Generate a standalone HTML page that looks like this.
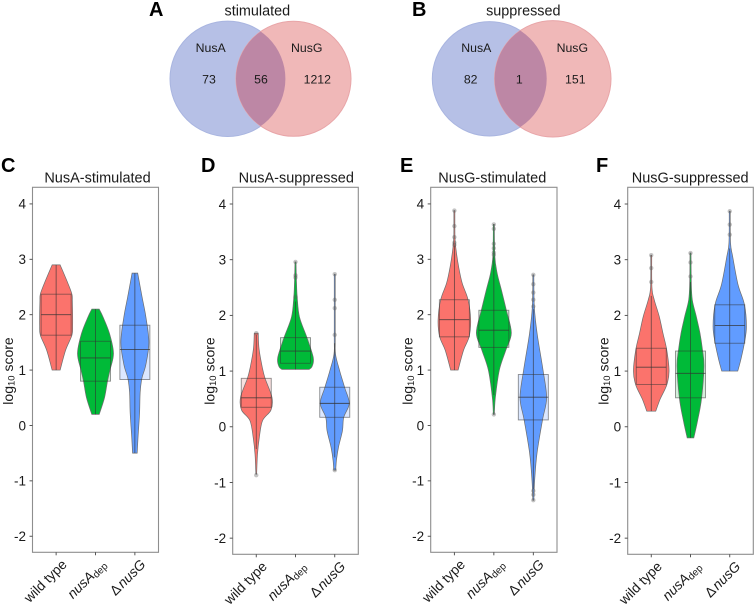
<!DOCTYPE html>
<html lang="en">
<head>
<meta charset="utf-8">
<title>NusA and NusG Venn diagrams and violin plots</title>
<style>
html,body{margin:0;padding:0;background:#fff;}
svg{display:block;font-family:"Liberation Sans",Arial,sans-serif;}
text{fill:#1a1a1a;}
.letter{font-weight:bold;font-size:20px;fill:#000;}
.vt{font-size:14.4px;text-anchor:middle;}
.vl{font-size:12.3px;text-anchor:middle;}
</style>
</head>
<body>
<svg id="figure" xmlns="http://www.w3.org/2000/svg" width="755" height="605" viewBox="0 0 755 605">
  <defs>
    <clipPath id="clipA"><circle cx="227.7" cy="78.8" r="57.7"/></clipPath>
    <clipPath id="clipB"><circle cx="489.5" cy="78.8" r="57.2"/></clipPath>
  </defs>
  <g>
    <text class="letter" x="149" y="16">A</text>
    <text class="vt" x="257.3" y="15.5">stimulated</text>
    <circle cx="227.7" cy="78.8" r="57.7" fill="#b6c0e6" stroke="#a9b5e0"/>
    <circle cx="293.5" cy="78.8" r="57.5" fill="#f0b8b8" stroke="#e8a5a8"/>
    <circle cx="293.5" cy="78.8" r="57.5" fill="#bd87a5" clip-path="url(#clipA)"/>
    <text class="vl" x="210.7" y="52">NusA</text>
    <text class="vl" x="306.7" y="52">NusG</text>
    <text class="vl" x="209" y="83.7">73</text>
    <text class="vl" x="261" y="83.7">56</text>
    <text class="vl" x="317.3" y="83.7">1212</text>
  </g>
  <g>
    <text class="letter" x="412" y="16">B</text>
    <text class="vt" x="523.3" y="15.5">suppressed</text>
    <circle cx="489.5" cy="78.8" r="57.2" fill="#b6c0e6" stroke="#a9b5e0"/>
    <circle cx="552.8" cy="78.8" r="58.2" fill="#f0b8b8" stroke="#e8a5a8"/>
    <circle cx="552.8" cy="78.8" r="58.2" fill="#bd87a5" clip-path="url(#clipB)"/>
    <text class="vl" x="476.3" y="52">NusA</text>
    <text class="vl" x="572.3" y="52">NusG</text>
    <text class="vl" x="470.7" y="83.7">82</text>
    <text class="vl" x="519.3" y="83.7">1</text>
    <text class="vl" x="575.3" y="83.7">151</text>
  </g>
  <text class="letter" x="1" y="172">C</text>
  <text class="letter" x="201" y="172">D</text>
  <text class="letter" x="400" y="172">E</text>
  <text class="letter" x="596" y="172">F</text>
</svg>
<script>
// ---- shared axis data ----
const categories = ['wild type', 'nusAdep', 'ΔnusG'];
const yTicks = [4, 3, 2, 1, 0, -1, -2];
const yDomain = [-2.29, 4.3];

// ---- Each violin: score levels, density at each level, box stats [low, q1, median, q3, high], outliers ----
const cWtLevels = [1.0, 1.36, 1.63, 1.8, 2.0, 2.25, 2.37, 2.57, 2.9];
const cWtDensity = [0.4, 0.95, 1.58, 1.65, 1.65, 1.62, 1.58, 1.17, 0.4];
const cWtBox = [1.0, 1.63, 2.0, 2.37, 2.9];
const cWtOutliers = [];
const cDepLevels = [0.2, 0.5, 0.8, 1.0, 1.3, 1.66, 1.96, 2.1];
const cDepDensity = [0.37, 0.9, 1.2, 1.45, 1.8, 1.4, 0.75, 0.37];
const cDepBox = [0.2, 0.8, 1.22, 1.52, 2.1];
const cDepOutliers = [];
const cDelLevels = [-0.5, -0.2, 0.22, 0.6, 0.85, 1.1, 1.5, 1.96, 2.32, 2.75];
const cDelDensity = [0.23, 0.32, 0.47, 0.53, 0.7, 1.1, 1.4, 1.1, 0.72, 0.28];
const cDelBox = [-0.5, 0.83, 1.37, 1.81, 2.75];
const cDelOutliers = [];

const dWtLevels = [-0.85, -0.5, -0.2, 0.11, 0.3, 0.53, 0.87, 1.07, 1.4, 1.68];
const dWtDensity = [0.04, 0.12, 0.3, 0.63, 1.47, 1.57, 0.88, 0.6, 0.28, 0.2];
const dWtBox = [-0.4, 0.35, 0.52, 0.87, 1.65];
const dWtOutliers = [-0.87, 1.68];
const dDepLevels = [1.03, 1.08, 1.24, 1.6, 1.97, 2.33, 2.6, 2.96];
const dDepDensity = [1.35, 1.65, 1.78, 1.15, 0.4, 0.17, 0.1, 0.05];
const dDepBox = [1.03, 1.14, 1.36, 1.6, 2.25];
const dDepOutliers = [2.96, 2.72, 2.68, 2.33];
const dDelLevels = [-0.78, -0.6, -0.37, -0.07, 0.17, 0.42, 0.7, 1.0, 1.3, 1.6, 2.74];
const dDelDensity = [0.1, 0.17, 0.37, 0.77, 0.9, 1.45, 1.0, 0.5, 0.08, 0.05, 0.05];
const dDelBox = [-0.55, 0.17, 0.42, 0.71, 1.5];
const dDelOutliers = [2.74, 2.28, 2.13, 1.65, -0.78];

const eWtLevels = [1.0, 1.36, 1.6, 1.9, 2.27, 2.57, 2.87, 3.17, 3.4, 3.88];
const eWtDensity = [0.37, 0.92, 1.47, 1.63, 1.37, 0.78, 0.42, 0.17, 0.06, 0.05];
const eWtBox = [1.0, 1.6, 1.91, 2.27, 3.25];
const eWtOutliers = [3.88, 3.6, 3.4, 3.3, 3.26];
const eDepLevels = [0.2, 0.5, 1.0, 1.36, 1.67, 2.08, 2.45, 2.75, 3.05, 3.63];
const eDepDensity = [0.05, 0.15, 0.55, 1.2, 1.75, 1.25, 0.75, 0.33, 0.1, 0.05];
const eDepBox = [0.55, 1.41, 1.72, 2.08, 3.05];
const eDepOutliers = [3.63, 3.55, 3.28, 3.2, 3.12, 3.08, 0.2];
const eDelLevels = [-1.35, -1.0, -0.5, 0.1, 0.5, 1.0, 1.66, 2.14, 2.72];
const eDelDensity = [0.05, 0.13, 0.37, 0.92, 1.33, 0.97, 0.38, 0.1, 0.05];
const eDelBox = [-1.15, 0.1, 0.51, 0.92, 2.1];
const eDelOutliers = [2.72, 2.55, 2.4, 2.27, 2.15, -1.18, -1.25, -1.35];

const fWtLevels = [0.28, 0.5, 0.75, 1.0, 1.38, 1.68, 1.98, 2.28, 2.5, 3.08];
const fWtDensity = [0.45, 0.9, 1.55, 1.78, 1.55, 1.17, 0.8, 0.3, 0.07, 0.05];
const fWtBox = [0.28, 0.76, 1.07, 1.41, 2.35];
const fWtOutliers = [3.08, 2.85, 2.6];
const fDepLevels = [-0.2, 0.1, 0.5, 1.08, 1.38, 1.68, 1.98, 2.28, 2.6, 3.12];
const fDepDensity = [0.33, 0.7, 1.1, 1.35, 1.2, 0.95, 0.58, 0.18, 0.08, 0.05];
const fDepBox = [-0.2, 0.52, 0.96, 1.36, 2.6];
const fDepOutliers = [3.12, 2.95, 2.7];
const fDelLevels = [1.0, 1.2, 1.5, 1.8, 2.2, 2.55, 3.05, 3.3, 3.87];
const fDelDensity = [0.8, 1.1, 1.46, 1.67, 1.46, 0.83, 0.3, 0.08, 0.05];
const fDelBox = [1.0, 1.5, 1.82, 2.19, 3.2];
const fDelOutliers = [3.87, 3.63, 3.45];

const panelTitles = ['NusA-stimulated', 'NusA-suppressed', 'NusG-stimulated', 'NusG-suppressed'];
const panelSeries = [
  [[cWtLevels, cWtDensity, cWtBox, cWtOutliers], [cDepLevels, cDepDensity, cDepBox, cDepOutliers], [cDelLevels, cDelDensity, cDelBox, cDelOutliers]],
  [[dWtLevels, dWtDensity, dWtBox, dWtOutliers], [dDepLevels, dDepDensity, dDepBox, dDepOutliers], [dDelLevels, dDelDensity, dDelBox, dDelOutliers]],
  [[eWtLevels, eWtDensity, eWtBox, eWtOutliers], [eDepLevels, eDepDensity, eDepBox, eDepOutliers], [eDelLevels, eDelDensity, eDelBox, eDelOutliers]],
  [[fWtLevels, fWtDensity, fWtBox, fWtOutliers], [fDepLevels, fDepDensity, fDepBox, fDepOutliers], [fDelLevels, fDelDensity, fDelBox, fDelOutliers]]
];

// ---- layout (not data) ----
const frames = [
  {left: 32.5, right: 158.5, top: 187.3, bottom: 552.3, titleX: 97.5, axisTitleX: 13},
  {left: 232.7, right: 358.3, top: 187.3, bottom: 554.3, titleX: 296.3, axisTitleX: 214.3},
  {left: 430.7, right: 557, top: 187.3, bottom: 552.3, titleX: 492.3, axisTitleX: 412.3},
  {left: 627.7, right: 753.3, top: 187.3, bottom: 554.3, titleX: 690.2, axisTitleX: 608.7}
];
const fills = ['#fb736c', '#00ba38', '#619cff'];
const tints = ['#f8e0df', '#d5efdc', '#dce8ff'];
const densityPx = 10;
const boxHalf = 15;
const NS = 'http://www.w3.org/2000/svg';
const root = document.getElementById('figure');

function mk(tag, parent, attrs) {
  const el = document.createElementNS(NS, tag);
  for (const k in attrs) el.setAttribute(k, attrs[k]);
  parent.appendChild(el);
  return el;
}
function xScale(f, i) {
  const step = (f.right - f.left) / 3.2;
  return f.left + (0.6 + i) * step;
}
function yScale(f, v) {
  return f.bottom - (v - yDomain[0]) / (yDomain[1] - yDomain[0]) * (f.bottom - f.top);
}
function smooth(pts) {
  let d = '';
  for (let i = 0; i < pts.length - 1; i++) {
    const p0 = pts[Math.max(i - 1, 0)], p1 = pts[i], p2 = pts[i + 1], p3 = pts[Math.min(i + 2, pts.length - 1)];
    const c1 = [p1[0] + (p2[0] - p0[0]) / 6, p1[1] + (p2[1] - p0[1]) / 6];
    const c2 = [p2[0] - (p3[0] - p1[0]) / 6, p2[1] - (p3[1] - p1[1]) / 6];
    d += 'C' + c1[0].toFixed(2) + ' ' + c1[1].toFixed(2) + ' ' + c2[0].toFixed(2) + ' ' + c2[1].toFixed(2) + ' ' + p2[0].toFixed(2) + ' ' + p2[1].toFixed(2);
  }
  return d;
}
function violinPath(f, cx, levels, density) {
  const left = levels.map((v, i) => [cx - density[i] * densityPx, yScale(f, v)]);
  const right = levels.map((v, i) => [cx + density[i] * densityPx, yScale(f, v)]).reverse();
  return 'M' + left[0][0].toFixed(2) + ' ' + left[0][1].toFixed(2) + smooth(left) +
         'L' + right[0][0].toFixed(2) + ' ' + right[0][1].toFixed(2) + smooth(right) + 'Z';
}
function categoryLabel(parent, text) {
  text.split(/(nusA|nusG|dep)/).filter(Boolean).forEach(tok => {
    const ts = mk('tspan', parent, {});
    ts.textContent = tok;
    if (tok === 'nusA') ts.setAttribute('font-style', 'italic');
    if (tok === 'nusG') {
      ts.setAttribute('font-style', 'italic');
      ts.setAttribute('dx', '1.5');
    }
    if (tok === 'dep') {
      ts.setAttribute('font-size', '10');
      ts.setAttribute('dy', '2');
    }
  });
}

frames.forEach((f, p) => {
  const letter = 'cdef'[p];
  const g = mk('g', root, {});
  
  

  const title = mk('text', g, {x: f.titleX, y: 182.7, 'text-anchor': 'middle', 'font-size': '14.5'});
  title.textContent = panelTitles[p];
  
  

  const frame = mk('rect', g, {x: f.left, y: f.top, width: f.right - f.left, height: f.bottom - f.top, fill: '#fff', stroke: '#8e8e8e', 'stroke-width': '1.1'});
  
  

  const axisTitle = mk('text', g, {transform: 'translate(' + f.axisTitleX + ' 371) rotate(-90)', 'text-anchor': 'middle', 'font-size': '14'});
  
  
  const t1 = mk('tspan', axisTitle, {});
  t1.textContent = 'log';
  const t2 = mk('tspan', axisTitle, {'font-size': '9.5', dy: '1.5'});
  t2.textContent = '10';
  const t3 = mk('tspan', axisTitle, {dy: '-1.5'});
  t3.textContent = ' score';

  yTicks.forEach(t => {
    const y = yScale(f, t);
    const tick = mk('line', g, {x1: f.left - 3, x2: f.left, y1: y, y2: y, stroke: '#444', 'stroke-width': '0.9'});
    
    
    const label = mk('text', g, {x: f.left - 6.5, y: y + 4.8, 'text-anchor': 'end', 'font-size': '13.5'});
    label.textContent = t;
    
    
  });

  categories.forEach((c, i) => {
    const cx = xScale(f, i);
    const [levels, density, box, outliers] = panelSeries[p][i];

    const tick = mk('line', g, {x1: cx, x2: cx, y1: f.bottom, y2: f.bottom + 3, stroke: '#444', 'stroke-width': '0.9'});
    
    
    const label = mk('text', g, {transform: 'translate(' + (cx + 11.5) + ' ' + (f.bottom + 13) + ') rotate(-45)', 'text-anchor': 'end', 'font-size': '13.8'});
    categoryLabel(label, c);
    
    

    const boxFill = mk('rect', g, {x: cx - boxHalf, y: yScale(f, box[3]), width: boxHalf * 2, height: yScale(f, box[1]) - yScale(f, box[3]), fill: tints[i]});
    
    

    const violin = mk('path', g, {d: violinPath(f, cx, levels, density), fill: fills[i], stroke: '#6e6e6e', 'stroke-width': '0.7'});
    
    

    const whisker = mk('line', g, {x1: cx, x2: cx, y1: yScale(f, box[0]), y2: yScale(f, box[4]), stroke: '#333', 'stroke-opacity': '0.75', 'stroke-width': '0.8'});
    
    

    const boxOutline = mk('rect', g, {x: cx - boxHalf, y: yScale(f, box[3]), width: boxHalf * 2, height: yScale(f, box[1]) - yScale(f, box[3]), fill: fills[i], 'fill-opacity': '0', stroke: '#333', 'stroke-opacity': '0.55', 'stroke-width': '0.9'});
    
    

    const median = mk('line', g, {x1: cx - boxHalf, x2: cx + boxHalf, y1: yScale(f, box[2]), y2: yScale(f, box[2]), stroke: '#333', 'stroke-opacity': '0.8', 'stroke-width': '0.9'});
    
    

    outliers.forEach(v => {
      const dot = mk('circle', g, {cx: cx, cy: yScale(f, v), r: 2.2, fill: '#555', 'fill-opacity': '0.35'});
      
      
    });
  });
});
</script>
</body>
</html>
